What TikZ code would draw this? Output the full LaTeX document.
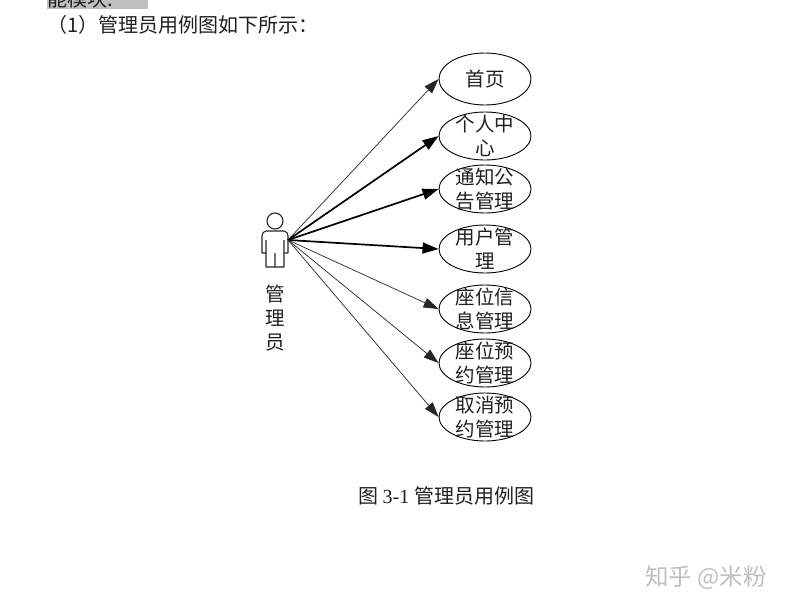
\documentclass[tikz,border=0pt]{standalone}
\usepackage{fontspec}
\setmainfont{Liberation Serif}
\newfontfamily\cjk{Noto Sans CJK SC}
\usetikzlibrary{shapes.geometric,arrows.meta}
\definecolor{ink}{gray}{0.12}
\tikzset{
  usecase/.style={draw=black,line width=0.9pt,ellipse,minimum width=92pt,minimum height=48pt,inner sep=0pt},
  caselabel/.style={font=\fontsize{19.5}{24}\selectfont\cjk,text=ink,align=center,inner sep=0pt},
  bodytext/.style={font=\fontsize{20}{24}\selectfont\cjk,text=ink,inner sep=0pt,anchor=west},
  thinlink/.style={draw=black!85,line width=0.7pt,-{Triangle[length=15pt,width=10pt]}},
  thicklink/.style={draw=black,line width=1.7pt,-{Triangle[length=16pt,width=11pt]}},
  figline/.style={draw=black!85,line width=1.1pt,line join=round},
}
\begin{document}
\begin{tikzpicture}[x=1pt,y=-1pt]
\useasboundingbox (0,0) rectangle (789,611);
\begin{scope}
\clip (0,0) rectangle (789,611);
\fill[gray!50] (47,0) rectangle (148,9);
\node[bodytext] (top) at (47,-1) {能模块:};
\end{scope}
\node[bodytext] (intro) at (47,25) {（1）管理员用例图如下所示：};
% actor
\draw[figline] (275,221) circle (8);
\draw[figline] (266,254) -- (266,240) (284,240) -- (284,254)
  (262,253) -- (262,236) to[out=90,in=180] (266,231) -- (284,231) to[out=0,in=90] (288,236) -- (288,253) -- (284,253)
  (262,253) -- (266,253)
  (266,253) -- (266,267) -- (284,267) -- (284,253)
  (275,253) -- (275,267);
\coordinate (hand) at (288,240);
\node[caselabel] (actorname) at (275,318.5) {管\\理\\员};
% use cases
\node[usecase,minimum height=52pt] (e1) at (485,79) {};
\node[usecase] (e2) at (485,136) {};
\node[usecase] (e3) at (485,189) {};
\node[usecase] (e4) at (485,249) {};
\node[usecase] (e5) at (485,309) {};
\node[usecase] (e6) at (485,363) {};
\node[usecase] (e7) at (485,417) {};
\node[caselabel] (t1) at (e1) {首页};
\node[caselabel] (t2) at (e2) {个人中\\心};
\node[caselabel] (t3) at (e3) {通知公\\告管理};
\node[caselabel] (t4) at (e4) {用户管\\理};
\node[caselabel] (t5) at (e5) {座位信\\息管理};
\node[caselabel] (t6) at (e6) {座位预\\约管理};
\node[caselabel] (t7) at (e7) {取消预\\约管理};
% connectors
\draw[thinlink] (hand) -- (e1.west);
\draw[thicklink] (hand) -- (e2.west);
\draw[thicklink] (hand) -- (e3.west);
\draw[thicklink] (hand) -- (e4.west);
\draw[thinlink] (hand) -- (e5.west);
\draw[thinlink] (hand) -- (e6.west);
\draw[thinlink] (hand) -- (e7.west);
% caption
\node[bodytext] (caption) at (358,496) {\cjk 图 \rmfamily 3-1 \cjk 管理员用例图};
% watermark
\node[font=\fontsize{23.5}{26}\selectfont\cjk,text=black!25,anchor=west,inner sep=0pt] (mark) at (645,578) {知乎 @米粉};
\end{tikzpicture}
\end{document}
